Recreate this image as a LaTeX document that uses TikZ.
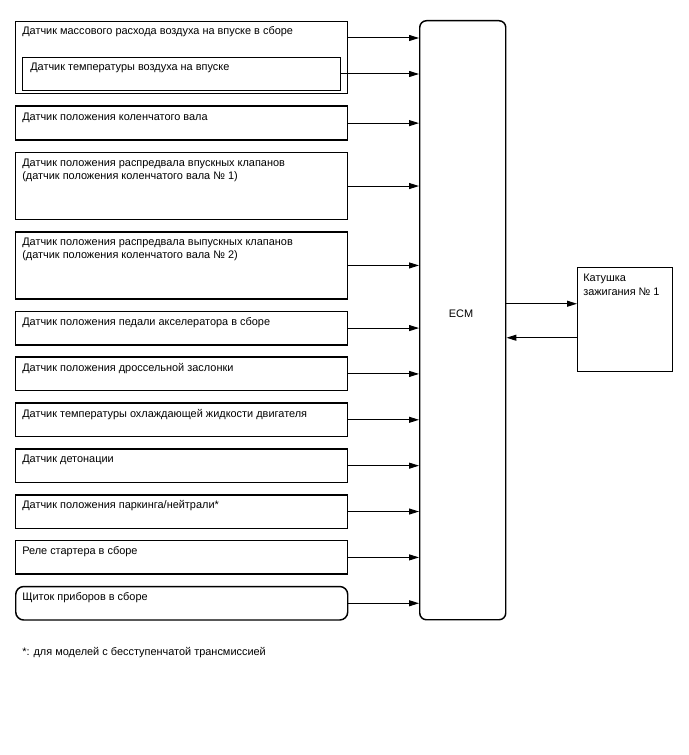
\documentclass[tikz,border=0pt]{standalone}
\usepackage{fontspec}
\setmainfont{Liberation Sans}
\usepackage{tikz}
\usetikzlibrary{arrows.meta, positioning, calc}
\tikzset{
  sensorbox/.style={
    draw=black, line width=1.1pt, fill=white,
    minimum width=249pt, minimum height=25.1pt, inner sep=0pt
  },
  ecmbox/.style={
    draw=black, line width=1.1pt, rounded corners=5pt,
    minimum width=64.5pt, minimum height=449.25pt
  },
  txt/.style={
    anchor=base west, inner sep=0pt, align=left,
    font=\fontsize{8.2}{9.75}\selectfont
  },
  darrow/.style={-{Triangle[length=7.5pt, width=4.5pt]}, line width=0.75pt}
}
\begin{document}
\begin{tikzpicture}[x=0.75pt, y=-0.75pt, node distance=8.2pt]
    \path[use as bounding box] (0,0) rectangle (688,755);

    % ECM and ignition coil
    \node[ecmbox, anchor=north west] (ecm) at (419,20) {};
    \node[txt, anchor=base] at (461,317) {ECM};
    \node[sensorbox, minimum width=71.25pt, minimum height=78pt, anchor=north west] (coil) at (577,267) {};
    \node[txt] at ([xshift=4.5pt, yshift=-21pt]coil.north west) {Катушка\\зажигания № 1};

    % Sensors
    \node[sensorbox, minimum height=54pt, anchor=north west] (maf) at (15,21) {};
    \node[sensorbox, minimum width=238.5pt, anchor=south] (iat) at ([yshift=2.25pt]maf.south) {};
    \node[sensorbox, minimum height=25.5pt, below=of maf] (ckp) {};
    \node[sensorbox, minimum height=50.25pt, below=of ckp] (vvti) {};
    \node[sensorbox, minimum height=50.25pt, below=of vvti] (vvte) {};
    \node[sensorbox, below=of vvte] (app) {};
    \node[sensorbox, below=of app] (tps) {};
    \node[sensorbox, below=of tps] (ect) {};
    \node[sensorbox, below=of ect] (ks) {};
    \node[sensorbox, below=of ks] (pnp) {};
    \node[sensorbox, below=of pnp] (st) {};
    \node[sensorbox, rounded corners=6pt, below=of st] (meter) {};

    % Sensor texts
    \node[txt] at ([xshift=5.25pt, yshift=-10.5pt]maf.north west) {Датчик массового расхода воздуха на впуске в сборе};
    \node[txt] at ([xshift=6pt, yshift=-10.5pt]iat.north west) {Датчик температуры воздуха на впуске};
    \node[txt] at ([xshift=5.25pt, yshift=-11pt]ckp.north west) {Датчик положения коленчатого вала};
    \node[txt] at ([xshift=5.25pt, yshift=-20.75pt]vvti.north west) {Датчик положения распредвала впускных клапанов\\(датчик положения коленчатого вала № 1)};
    \node[txt] at ([xshift=5.25pt, yshift=-20.75pt]vvte.north west) {Датчик положения распредвала выпускных клапанов\\(датчик положения коленчатого вала № 2)};
    \node[txt] at ([xshift=5.25pt, yshift=-11pt]app.north west) {Датчик положения педали акселератора в сборе};
    \node[txt] at ([xshift=5.25pt, yshift=-11pt]tps.north west) {Датчик положения дроссельной заслонки};
    \node[txt] at ([xshift=5.25pt, yshift=-11pt]ect.north west) {Датчик температуры охлаждающей жидкости двигателя};
    \node[txt] at ([xshift=5.25pt, yshift=-11pt]ks.north west) {Датчик детонации};
    \node[txt] at ([xshift=5.25pt, yshift=-11pt]pnp.north west) {Датчик положения паркинга/нейтрали*};
    \node[txt] at ([xshift=5.25pt, yshift=-11pt]st.north west) {Реле стартера в сборе};
    \node[txt] at ([xshift=5.25pt, yshift=-11pt]meter.north west) {Щиток приборов в сборе};

    % Footnote
    \node[txt] (note) at (22,655) {*: для моделей с бесступенчатой трансмиссией};

    % Inputs to ECM
    \coordinate (mafout) at ([yshift=-12.75pt]maf.north east);
    \draw[darrow] (mafout) -- (mafout -| ecm.west);
    \draw[darrow] (iat.east) -- (iat.east -| ecm.west);
    \draw[darrow] (ckp.east) -- (ckp.east -| ecm.west);
    \draw[darrow] (vvti.east) -- (vvti.east -| ecm.west);
    \draw[darrow] (vvte.east) -- (vvte.east -| ecm.west);
    \draw[darrow] (app.east) -- (app.east -| ecm.west);
    \draw[darrow] (tps.east) -- (tps.east -| ecm.west);
    \draw[darrow] (ect.east) -- (ect.east -| ecm.west);
    \draw[darrow] (ks.east) -- (ks.east -| ecm.west);
    \draw[darrow] (pnp.east) -- (pnp.east -| ecm.west);
    \draw[darrow] (st.east) -- (st.east -| ecm.west);
    \draw[darrow] (meter.east) -- (meter.east -| ecm.west);

    % ECM <-> coil
    \coordinate (igt) at ([yshift=12pt]coil.west);
    \coordinate (igf) at ([yshift=-13.5pt]coil.west);
    \draw[darrow] (igt -| ecm.east) -- (igt);
    \draw[darrow] (igf) -- (igf -| ecm.east);
\end{tikzpicture}
\end{document}
